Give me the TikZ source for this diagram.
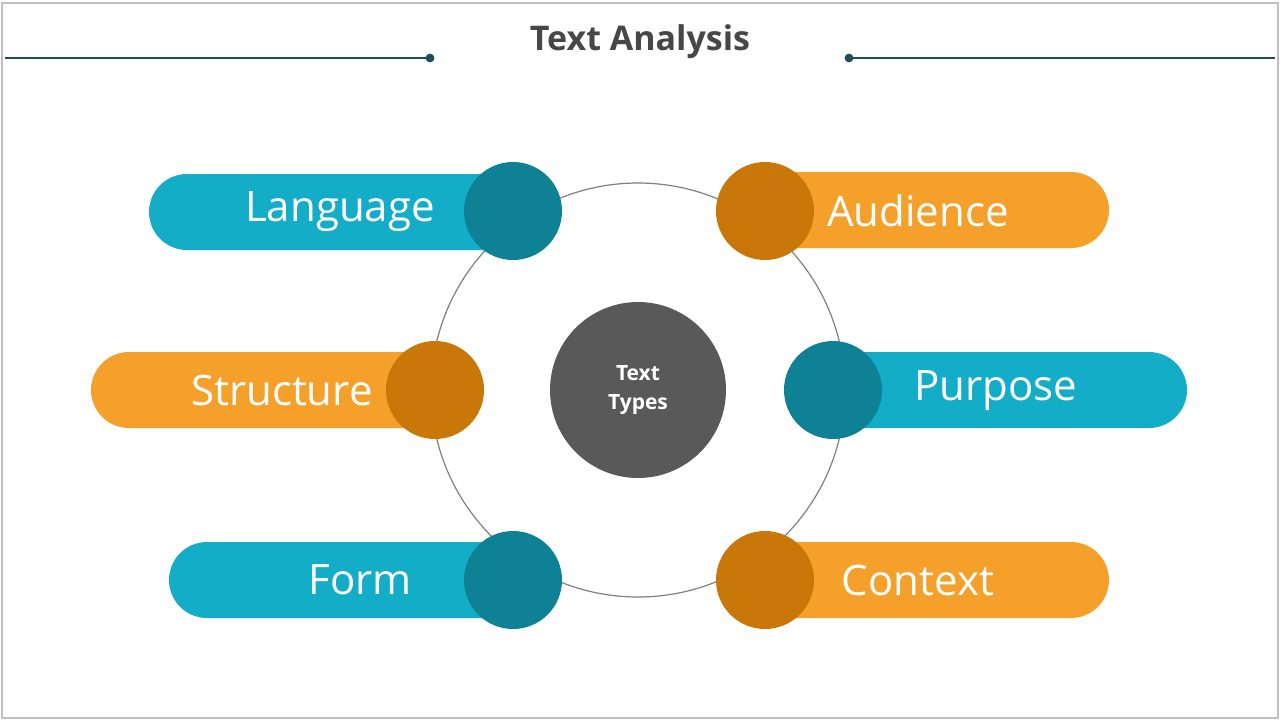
\documentclass[tikz,border=0pt]{standalone}
\usepackage{fontspec}
\setmainfont{Open Sans}
\usepackage{tikz}
\usetikzlibrary{positioning}
\definecolor{tealpill}{HTML}{14ADC8}
\definecolor{tealdot}{HTML}{0E8195}
\definecolor{orangepill}{HTML}{F4A02A}
\definecolor{orangedot}{HTML}{C97708}
\definecolor{darkgray}{HTML}{595959}
\definecolor{headline}{HTML}{1F4E5A}

\tikzset{
  pill/.style={rounded corners=19pt, minimum height=38pt, inner sep=0pt, text=white, font=\fontsize{21}{24}\selectfont},
  bead/.style={circle, minimum size=49pt, inner sep=0pt},
}

\begin{document}
\begin{tikzpicture}[x=0.5pt,y=-0.5pt]

% Frame of the page
\useasboundingbox (0,0) rectangle (1280,720);
\fill[white] (0,0) rectangle (1280,720);
\draw[gray!50, line width=0.8pt] (2,3) rectangle (1278,718);

% Title and header lines
\node[font=\bfseries\fontsize{17}{20}\selectfont, text=darkgray!80!black] (title) at (640,42) {Text Analysis};
\coordinate (LA) at (5,58);   % left end
\coordinate (LB) at (430,58); % left dot
\coordinate (RA) at (849,58); % right dot
\coordinate (RB) at (1275,58);% right end
\draw[headline, line width=0.6pt] (LA) -- (LB);
\draw[headline, line width=0.6pt] (RA) -- (RB);
\fill[headline] (LB) circle (2.2pt);
\fill[headline] (RA) circle (2.2pt);

% Ring and hub
\draw[gray, line width=0.6pt] (638,390) circle (103.5pt);
\node[circle, fill=darkgray, minimum size=88pt, align=center, text=white,
      font=\bfseries\fontsize{10.5}{14.5}\selectfont] (hub) at (638,390) {Text\\Types};

% Left pills
\fill[tealpill, rounded corners=19pt] (149,174) rectangle (540,250);
\node[pill] (language) at (340,212) {Language};
\node[bead, fill=tealdot] (languageDot) at (513,211) {};

\fill[orangepill, rounded corners=19pt] (91,352) rectangle (460,428);
\node[pill] (structure) at (282,390) {Structure};
\node[bead, fill=orangedot] (structureDot) at (435,390) {};

\fill[tealpill, rounded corners=19pt] (169,542) rectangle (540,618);
\node[pill] (form) at (360,580) {Form};
\node[bead, fill=tealdot] (formDot) at (513,580) {};

% Right pills
\fill[orangepill, rounded corners=19pt] (735,172) rectangle (1109,248);
\node[pill] (audience) at (918,211) {Audience};
\node[bead, fill=orangedot] (audienceDot) at (765,211) {};

\fill[tealpill, rounded corners=19pt] (810,352) rectangle (1187,428);
\node[pill] (purpose) at (996,391) {Purpose};
\node[bead, fill=tealdot] (purposeDot) at (833,390) {};

\fill[orangepill, rounded corners=19pt] (735,542) rectangle (1109,618);
\node[pill] (context) at (918,580) {Context};
\node[bead, fill=orangedot] (contextDot) at (765,580) {};

\end{tikzpicture}
\end{document}
